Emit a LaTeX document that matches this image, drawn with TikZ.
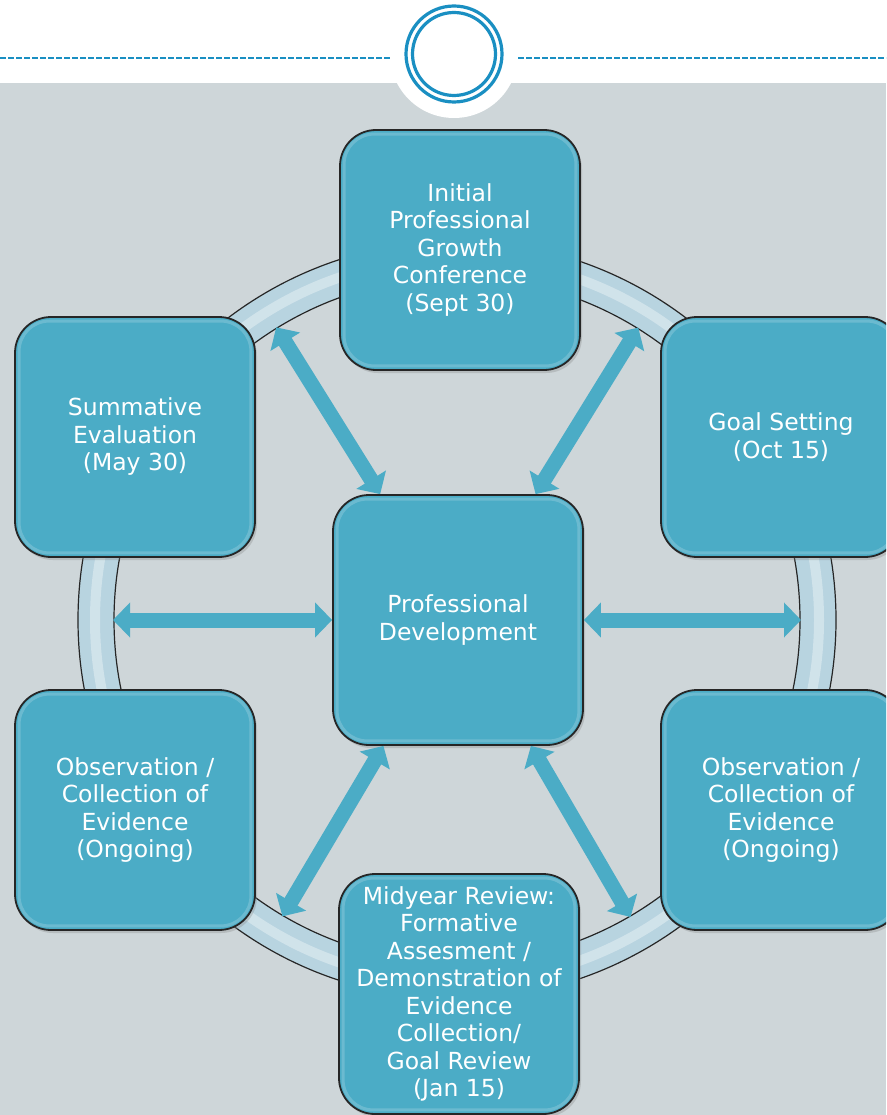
\documentclass[tikz,border=0pt]{standalone}
\usepackage{fontspec}
\newfontfamily\cyclefont{DejaVu Sans}
\usetikzlibrary{arrows.meta,shadows}
\definecolor{bggray}{RGB}{206,214,217}
\definecolor{stageblue}{RGB}{75,172,198}
\definecolor{accent}{RGB}{26,143,194}
\definecolor{ringblue}{RGB}{184,212,224}
\begin{document}
\begin{tikzpicture}[x=1pt,y=-1pt,
  stage/.style={draw=black!85,line width=1.8pt,fill=stageblue,rounded corners=36pt,
    minimum width=240pt,minimum height=240pt,inner sep=0pt,text=white,align=center,
    font=\cyclefont\fontsize{23.5}{27.5}\selectfont,
    drop shadow={shadow xshift=2pt,shadow yshift=-3pt,opacity=0.3}},
  gloss/.style={draw=white,opacity=0.18,line width=3pt,rounded corners=30pt},
  link/.style={draw=stageblue,line width=15pt,
    {Triangle[length=17pt,width=34pt]}-{Triangle[length=17pt,width=34pt]}}]
  \clip (0,0) rectangle (886,1115);
  % header band and background
  \fill[white] (0,0) rectangle (886,83);
  \fill[bggray] (0,83) rectangle (886,1115);
  \coordinate (badge) at (454,54);
  \fill[white] (badge) circle (64);
  \draw[accent,line width=2pt,dash pattern=on 6pt off 2pt] (0,58) -- (390,58) (518,58) -- (886,58);
  \draw[accent,line width=3.2pt] (badge) circle (48) (badge) circle (41.5);
  % ring
  \coordinate (hub) at (457,620);
  \draw[ringblue,line width=36pt] (hub) circle (361);
  \draw[white,opacity=0.35,line width=10pt] (hub) circle (362);
  \draw[black!85,line width=1.2pt] (hub) circle (343) (hub) circle (379);
  % stages
  \node[stage] (ipgc) at (460,250) {Initial\\Professional\\Growth\\Conference\\(Sept 30)};
  \node[stage] (goal) at (781,437) {Goal Setting\\(Oct 15)};
  \node[stage] (obsR) at (781,810) {Observation /\\Collection of\\Evidence\\(Ongoing)};
  \node[stage] (mid) at (459,994) {Midyear Review:\\Formative\\Assesment /\\Demonstration of\\Evidence\\Collection/\\Goal Review\\(Jan 15)};
  \node[stage] (obsL) at (135,810) {Observation /\\Collection of\\Evidence\\(Ongoing)};
  \node[stage] (summ) at (135,437) {Summative\\Evaluation\\(May 30)};
  \node[stage,minimum width=250pt,minimum height=250pt] (pd) at (458,620) {Professional\\Development};
  \foreach \n in {ipgc,goal,obsR,mid,obsL,summ,pd}
    \draw[gloss] ([shift={(5,5)}]\n.north west) rectangle ([shift={(-5,-5)}]\n.south east);
  % arrows to the ring
  \foreach \a/\nm in {180/rW,0/rE,-121.7/rNW,-58.2/rNE,120.5/rSW,59.7/rSE}
    \coordinate (\nm) at ([shift={(\a:344)}]hub);
  \foreach \nm in {rW,rE,rNW,rNE,rSW,rSE}
    \draw[link] (pd) -- (\nm);
\end{tikzpicture}
\end{document}
